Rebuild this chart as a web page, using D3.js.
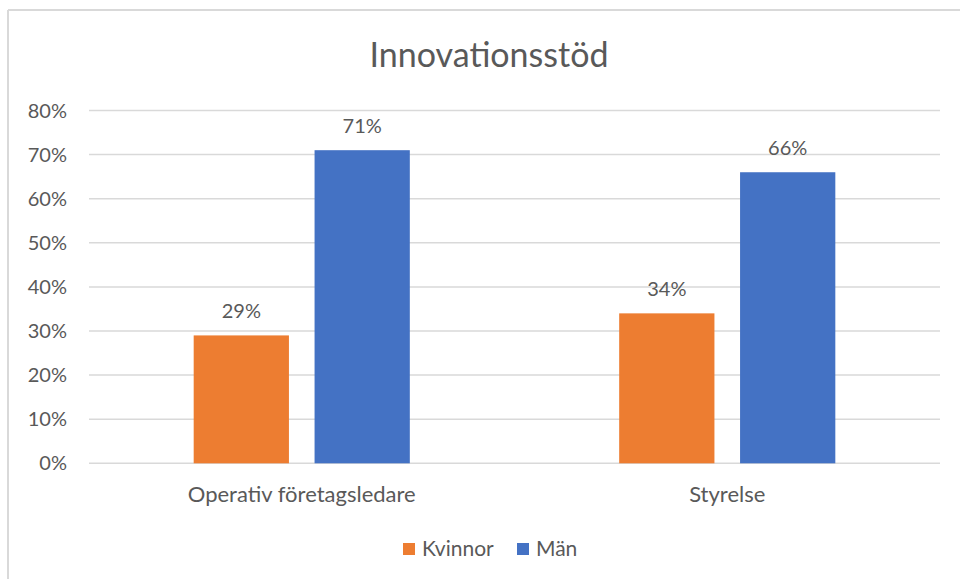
<!DOCTYPE html>
<html><head><meta charset="utf-8">
<script src="https://cdn.jsdelivr.net/npm/d3@7/dist/d3.min.js"></script>
<style>body{margin:0;background:#fff}svg{display:block}text{font-family:Lato,"Open Sans",sans-serif;fill:#595959}</style>
</head><body>
<svg id="c" width="960" height="579"></svg>
<script>
const title = "Innovationsstöd";
const categories = ["Operativ företagsledare", "Styrelse"];
const seriesNames = ["Kvinnor", "Män"];
const kvinnor = [0.29, 0.34];
const man = [0.71, 0.66];
const colors = ["#ED7D31", "#4472C4"];
const yTicks = [0, 0.1, 0.2, 0.3, 0.4, 0.5, 0.6, 0.7, 0.8];

const seriesValues = [kvinnor, man];
const svg = d3.select("#c");

// chart border (top and left visible)
svg.append("line").attr("x1", 8).attr("x2", 960).attr("y1", 10).attr("y2", 10).attr("stroke", "#d9d9d9").attr("stroke-width", 2);
svg.append("line").attr("x1", 8).attr("x2", 8).attr("y1", 10).attr("y2", 579).attr("stroke", "#d9d9d9").attr("stroke-width", 2);

const y = d3.scaleLinear().domain([0, 0.8]).range([463.3, 110.5]);
const x0 = d3.scaleBand().domain(categories).range([89, 940]).padding(0);
const x1 = d3.scaleBand().domain(seriesNames).range([0, x0.bandwidth()]).paddingInner(0.212).paddingOuter(0.866);

// gridlines
svg.append("g").selectAll("line").data(yTicks).join("line")
  .attr("x1", 89).attr("x2", 940)
  .attr("y1", d => y(d)).attr("y2", d => y(d))
  .attr("stroke", "#d9d9d9").attr("stroke-width", 1.5);

// y axis labels
const fmt = d3.format(".0%");
svg.append("g").selectAll("text").data(yTicks).join("text")
  .attr("x", 67).attr("y", d => y(d)).attr("dy", "0.35em")
  .attr("text-anchor", "end").style("font-size", "20px")
  .text(d => fmt(d));

// bars
const g = svg.append("g");
categories.forEach((c, i) => {
  seriesNames.forEach((s, j) => {
    const v = seriesValues[j][i];
    const bx = x0(c) + x1(s);
    g.append("rect")
      .attr("x", bx).attr("width", x1.bandwidth())
      .attr("y", y(v)).attr("height", y(0) - y(v))
      .attr("fill", colors[j]);
    g.append("text")
      .attr("x", bx + x1.bandwidth() / 2).attr("y", y(v) - 17.5)
      .attr("text-anchor", "middle").style("font-size", "20px")
      .text(fmt(v));
  });
});

// category labels
svg.append("g").selectAll("text").data(categories).join("text")
  .attr("x", d => x0(d) + x0.bandwidth() / 2).attr("y", 502)
  .attr("text-anchor", "middle").style("font-size", "22px")
  .text(d => d);

// title
svg.append("text").attr("x", 489).attr("y", 67)
  .attr("text-anchor", "middle").style("font-size", "34px")
  .text(title);

// legend
const legend = svg.append("g");
const legendItems = [{x: 403}, {x: 517}];
seriesNames.forEach((s, j) => {
  const lx = legendItems[j].x;
  legend.append("rect").attr("x", lx).attr("y", 543).attr("width", 12).attr("height", 12).attr("fill", colors[j]);
  legend.append("text").attr("x", lx + 19).attr("y", 556).style("font-size", "21px").text(s);
});
</script>
</body></html>
